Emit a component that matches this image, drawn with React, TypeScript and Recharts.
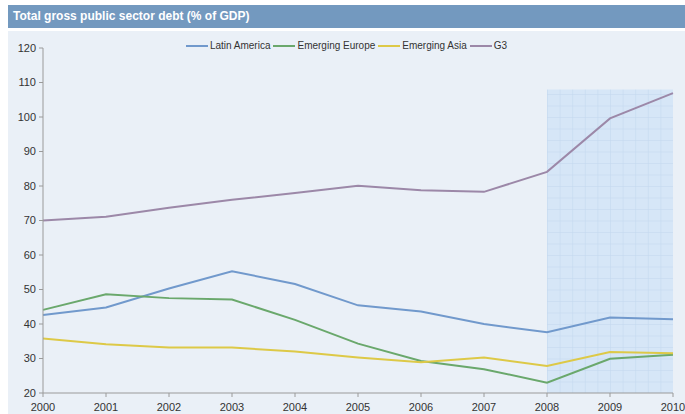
import React from 'react';
import { LineChart, Line, XAxis, YAxis, ReferenceArea, Legend } from 'recharts';

const years = [2000, 2001, 2002, 2003, 2004, 2005, 2006, 2007, 2008, 2009, 2010];
const latinAmerica = [42.6, 44.8, 50.3, 55.3, 51.6, 45.4, 43.6, 40.0, 37.6, 41.9, 41.4];
const emergingEurope = [44.1, 48.6, 47.5, 47.1, 41.2, 34.3, 29.3, 26.9, 23.0, 29.9, 31.1];
const emergingAsia = [35.8, 34.1, 33.2, 33.2, 32.0, 30.3, 28.9, 30.3, 27.8, 31.9, 31.5];
const g3 = [70.0, 71.1, 73.7, 76.0, 78.0, 80.1, 78.8, 78.3, 84.1, 99.6, 106.9];
const yTicks = [20, 30, 40, 50, 60, 70, 80, 90, 100, 110, 120];
const forecastStart = 2008;
const forecastEnd = 2010;
const forecastTop = 108;

const title = 'Total gross public sector debt (% of GDP)';

const series = [
  { key: 'latinAmerica', name: 'Latin America', color: '#7199cc' },
  { key: 'emergingEurope', name: 'Emerging Europe', color: '#6aa86c' },
  { key: 'emergingAsia', name: 'Emerging Asia', color: '#ddc947' },
  { key: 'g3', name: 'G3', color: '#9c88a8' },
];

const data = years.map((year, i) => ({
  year,
  latinAmerica: latinAmerica[i],
  emergingEurope: emergingEurope[i],
  emergingAsia: emergingAsia[i],
  g3: g3[i],
}));

const FONT = 'Arial, "Liberation Sans", sans-serif';

const LegendContent = () => (
  <div style={{ display: 'flex', justifyContent: 'center', alignItems: 'center', fontFamily: FONT, fontSize: 10, color: '#333', whiteSpace: 'nowrap' }}>
    {series.map((s) => (
      <div key={s.key} style={{ display: 'flex', alignItems: 'center', marginRight: 3 }}>
        <div style={{ width: 22, height: 2, background: s.color, marginRight: 2 }} />
        <span>{s.name}</span>
      </div>
    ))}
  </div>
);

export default function App() {
  return (
    <div style={{ position: 'absolute', left: 0, top: 0, width: 685, height: 414, background: '#ffffff', overflow: 'hidden' }}>
      <div
        style={{
          position: 'absolute', left: 8, top: 5, width: 677, height: 23, background: '#7399bf',
          color: '#ffffff', fontFamily: FONT, fontWeight: 'bold', fontSize: 12, lineHeight: '23px',
          paddingLeft: 5, boxSizing: 'border-box',
        }}
      >
        {title}
      </div>
      <div style={{ position: 'absolute', left: 8, top: 31, width: 677, height: 383, background: '#eaf0f7' }} />
      <div style={{ position: 'absolute', left: 0, top: 0 }}>
        <LineChart width={685} height={414} data={data} margin={{ top: 48, right: 12, left: 8, bottom: 0 }}>
          <defs>
            <pattern id="fcGrid" width={12.6} height={11.5} patternUnits="userSpaceOnUse" x={547} y={393}>
              <rect x={0} y={0} width={12.6} height={11.5} fill="#d6e6f7" />
              <path d="M 0 0 L 0 11.5 M 0 0 L 12.6 0" stroke="#c2d7ee" strokeWidth={1} fill="none" />
            </pattern>
          </defs>
          <ReferenceArea
            x1={forecastStart}
            x2={forecastEnd}
            y1={20}
            y2={forecastTop}
            fill="url(#fcGrid)"
            fillOpacity={1}
            stroke="none"
            ifOverflow="visible"
          />
          <XAxis
            dataKey="year"
            type="number"
            domain={[2000, 2010]}
            ticks={years}
            height={21}
            tickSize={4}
            tickMargin={6}
            stroke="#9a9a9a"
            tick={{ fill: '#333', fontSize: 11, fontFamily: FONT }}
            interval={0}
          />
          <YAxis
            type="number"
            domain={[20, 120]}
            ticks={yTicks}
            width={35}
            tickSize={4}
            tickMargin={3}
            stroke="#9a9a9a"
            tick={{ fill: '#333', fontSize: 11, fontFamily: FONT }}
            interval={0}
          />
          <Legend
            verticalAlign="middle"
            layout="horizontal"
            content={<LegendContent />}
            wrapperStyle={{ top: 40, left: 148, width: 400, height: 14 }}
          />
          {series.map((s) => (
            <Line
              key={s.key}
              type="linear"
              dataKey={s.key}
              name={s.name}
              stroke={s.color}
              strokeWidth={2}
              dot={false}
              activeDot={false}
              isAnimationActive={false}
            />
          ))}
        </LineChart>
      </div>
    </div>
  );
}
